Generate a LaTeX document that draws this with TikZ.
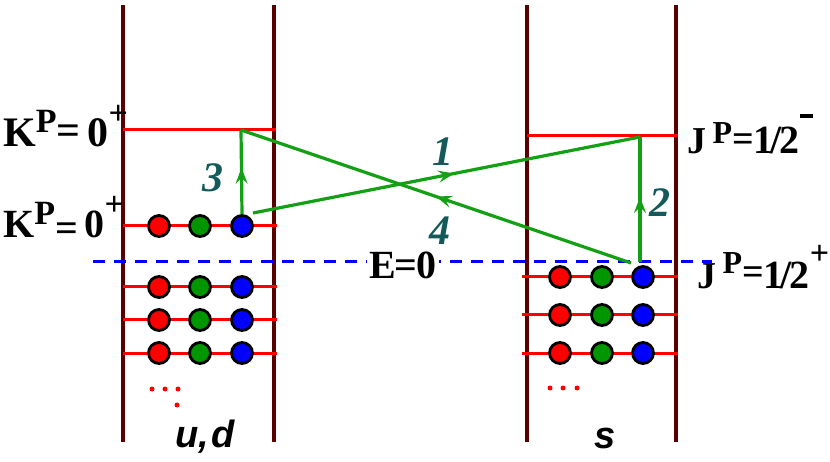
\documentclass[tikz,border=0pt]{standalone}
\usepackage{fontspec}
\setmainfont{Liberation Serif}
\setsansfont{Liberation Sans}
\usetikzlibrary{decorations.markings,arrows.meta}
\definecolor{wallc}{RGB}{90,0,0}
\definecolor{grn}{RGB}{20,160,20}
\definecolor{numc}{RGB}{20,90,90}
\definecolor{quarkb}{RGB}{0,0,255}
\definecolor{quarkg}{RGB}{0,150,0}
\tikzset{
  wall/.style={draw=wallc,line width=3.8pt},
  level/.style={draw=red,line width=3pt},
  quark/.style={circle,draw=black,line width=2.8pt,minimum size=21pt,inner sep=0pt},
  qr/.style={quark,fill=red},
  qg/.style={quark,fill=quarkg},
  qb/.style={quark,fill=quarkb},
  gline/.style={draw=grn,line width=3.2pt,postaction=decorate,
    decoration={markings,mark=at position #1 with {\arrow[grn]{Stealth[length=16pt,width=12pt,inset=6pt]}}}},
  gline/.default=0.5,
  dashline/.style={draw=blue,line width=3pt,dash pattern=on 12pt off 9pt},
  num/.style={text=numc,font=\fontsize{42}{42}\selectfont\bfseries\itshape},
  lab/.style={anchor=base west,inner sep=0pt,font=\bfseries},
  flav/.style={font=\fontsize{38}{38}\selectfont\sffamily\bfseries\itshape,inner sep=0pt},
  rdot/.style={circle,fill=red,inner sep=0pt,minimum size=5pt}
}
\begin{document}
\begin{tikzpicture}[x=1pt,y=-1pt]
\useasboundingbox (0,0) rectangle (830,462);
% walls
\draw[wall] (123,5) -- (123,442);
\draw[wall] (274,5) -- (274,442);
\draw[wall] (527,5) -- (527,442);
\draw[wall] (676,5) -- (676,442);
% levels left
\draw[level] (123,130) -- (276,130);
\foreach \y in {226,287,320,353} \draw[level] (123,\y) -- (277,\y);
% levels right
\draw[level] (527,136) -- (678,136);
\foreach \y in {277,315,353} \draw[level] (522,\y) -- (678,\y);
% dashed E=0 line
\coordinate (eL) at (93,262);
\coordinate (eR) at (712,262);
\draw[dashline] (eL) -- (eR);
\node[fill=white,inner sep=2pt,font=\fontsize{40}{40}\selectfont\bfseries] (E0) at (403,265) {E\kern-1pt=\kern-1pt0};
% quarks left
\foreach \y/\n in {226/1,287/2,320/3,353/4}{
  \node[qr] (qLr\n) at (159,\y) {};
  \node[qg] (qLg\n) at (200,\y) {};
  \node[qb] (qLb\n) at (242,\y) {};
}
% quarks right
\foreach \y/\n in {277/1,315/2,353/3}{
  \node[qr] (qRr\n) at (560,\y) {};
  \node[qg] (qRg\n) at (602,\y) {};
  \node[qb] (qRb\n) at (643,\y) {};
}
% ellipsis
\node[rdot] (dl1) at (152,389) {};
\node[rdot] (dl2) at (165,389) {};
\node[rdot] (dl3) at (178,389) {};
\node[rdot] (dl4) at (177,405) {};
\node[rdot] (dr1) at (550,388) {};
\node[rdot] (dr2) at (563,388) {};
\node[rdot] (dr3) at (577,388) {};
% transition coordinates
\coordinate (A) at (241,130);
\coordinate (B) at (640,137);
\coordinate (S1) at (253,213);
\coordinate (C) at (640,262);
\coordinate (D) at (631,263);
% transitions
\draw[gline=0.52] (S1) -- (B);
\draw[gline=0.52] (C) -- (B);
\draw[gline=0.55] (qLb1.north) -- (A);
\draw[gline=0.5] (D) -- (A);
% numbers
\node[num] (n1) at (443,152) {1};
\node[num] (n2) at (660,203) {2};
\node[num] (n3) at (213,178) {3};
\node[num] (n4) at (440,231) {4};
% labels
\node[lab] (K1) at (3,147) {\fontsize{42}{42}\selectfont K\raisebox{14pt}{\fontsize{34}{34}\selectfont P}\raisebox{2pt}{=}\,0\raisebox{22pt}{\fontsize{34}{34}\selectfont +}};
\node[lab] (K2) at (3,238) {\fontsize{40}{40}\selectfont K\raisebox{13pt}{\fontsize{34}{34}\selectfont P}\raisebox{-4pt}{=}\,0\raisebox{22pt}{\fontsize{34}{34}\selectfont +}};
\node[lab] (J1) at (687,154) {\fontsize{38}{38}\selectfont J\,\raisebox{10pt}{\fontsize{32}{32}\selectfont P}\raisebox{2pt}{=}\fontsize{40}{40}\selectfont 1\kern-3pt/\kern-2pt2\rule[36pt]{13pt}{3.5pt}};
\node[lab] (J2) at (697,289) {\fontsize{38}{38}\selectfont J\,\raisebox{15pt}{\fontsize{32}{32}\selectfont P}\raisebox{4pt}{=}\fontsize{40}{40}\selectfont 1\kern-3pt/\kern-2pt2\raisebox{24pt}{\fontsize{34}{34}\selectfont +}};
% flavours
\node[flav] (ud) at (205,437) {u,\kern2pt d};
\node[flav] (s) at (605,438) {s};
\end{tikzpicture}
\end{document}
